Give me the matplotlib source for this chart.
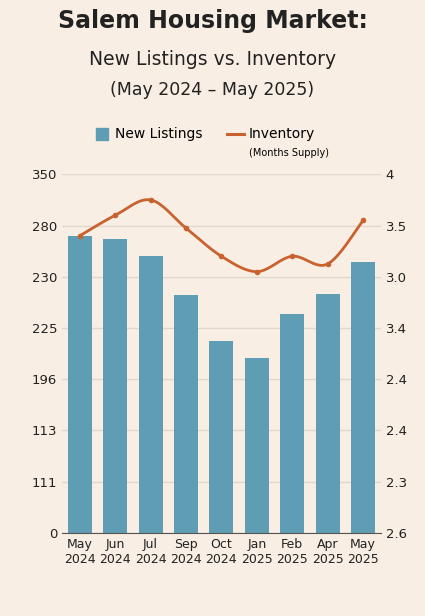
import numpy as np
import matplotlib
matplotlib.use("Agg")
import matplotlib.pyplot as plt

months = ["May\n2024", "Jun\n2024", "Jul\n2024", "Sep\n2024", "Oct\n2024", "Jan\n2025", "Feb\n2025", "Apr\n2025", "May\n2025"]
new_listings = [290, 287, 270, 232, 187, 171, 214, 233, 264]
inventory = [3.76, 3.84, 3.90, 3.79, 3.68, 3.62, 3.68, 3.65, 3.82]
left_labels = ["0", "111", "113", "196", "225", "230", "280", "350"]
right_labels = ["2.6", "2.3", "2.4", "2.4", "3.4", "3.0", "3.5", "4"]

bg = "#f8eee3"
fig = plt.figure(figsize=(4.25, 6.16), dpi=100, facecolor=bg)
ax = fig.add_axes([0.146, 0.135, 0.75, 0.582])
ax.set_facecolor(bg)
x = np.arange(len(months))
ax.bar(x, new_listings, width=0.68, color="#5f9db4", zorder=2)
ax.set_ylim(0, 350)
ax.set_xlim(-0.5, len(months) - 0.5)
ax.set_yticks(np.linspace(0, 350, 8))
ax.set_yticklabels(left_labels)
ax.grid(axis="y", color="#e2d7cb", lw=1, zorder=0)
ax.set_xticks(x)
ax.set_xticklabels(months, fontsize=9)
for s in ["top", "right", "left"]:
    ax.spines[s].set_visible(False)
ax.spines["bottom"].set_color("#555555")
ax.tick_params(axis="both", length=0, labelsize=9.5, colors="#222222")
ax.tick_params(axis="x", labelsize=9)

ax2 = ax.twinx()
ax2.set_ylim(2.6, 4.0)
ax2.set_yticks(np.linspace(2.6, 4.0, 8))
ax2.set_yticklabels(right_labels)
ax2.tick_params(length=0, labelsize=9.5, colors="#222222")
for s in ax2.spines.values():
    s.set_visible(False)
# smooth curve through data (Catmull-Rom for drawing only)
pts = np.column_stack([x, inventory]).astype(float)
P = np.vstack([pts[0], pts, pts[-1]])
cx, cy = [], []
for i in range(1, len(P) - 2):
    t = np.linspace(0, 1, 20)[:, None]
    p0, p1, p2, p3 = P[i - 1], P[i], P[i + 1], P[i + 2]
    c = 0.5 * ((2 * p1) + (-p0 + p2) * t + (2 * p0 - 5 * p1 + 4 * p2 - p3) * t**2 + (-p0 + 3 * p1 - 3 * p2 + p3) * t**3)
    cx.extend(c[:, 0]); cy.extend(c[:, 1])
ax2.plot(cx, cy, color="#c8622e", lw=2, zorder=3)
ax2.plot(x, inventory, "o", color="#c8622e", ms=3, zorder=3)

fig.text(0.5, 0.955, "Salem Housing Market:", ha="center", fontsize=17, fontweight="bold", color="#222222")
fig.text(0.5, 0.895, "New Listings vs. Inventory", ha="center", fontsize=13.5, fontweight="medium", color="#222222")
fig.text(0.5, 0.845, "(May 2024 – May 2025)", ha="center", fontsize=12.5, color="#222222")
fig.patches.append(plt.Rectangle((0.225, 0.773), 0.03, 0.02, transform=fig.transFigure, color="#5f9db4"))
fig.text(0.27, 0.783, "New Listings", fontsize=10, va="center")
fig.lines.append(plt.Line2D([0.535, 0.575], [0.783, 0.783], transform=fig.transFigure, color="#c8622e", lw=2.2))
fig.text(0.585, 0.783, "Inventory", fontsize=10, va="center")
fig.text(0.585, 0.752, "(Months Supply)", fontsize=7, va="center")
fig.savefig("out.png", dpi=100, facecolor=bg)
